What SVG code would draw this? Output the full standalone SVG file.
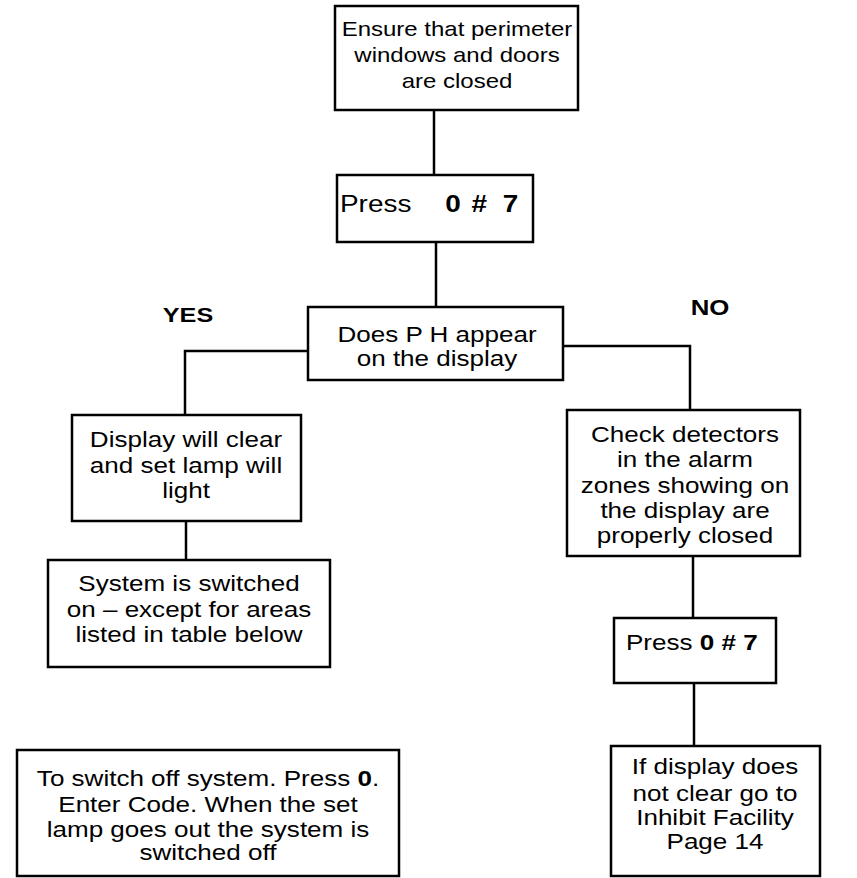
<svg xmlns="http://www.w3.org/2000/svg" width="857" height="878" viewBox="0 0 857 878">
<style>
.box{fill:#fff;stroke:#000;stroke-width:2.5}
.ln{fill:none;stroke:#000;stroke-width:2.5}
text{font-family:"Liberation Sans",Arial,Helvetica,sans-serif;font-size:21.7px;fill:#000;text-anchor:middle}
.b{font-weight:bold}
.l{text-anchor:start}
</style>
<rect width="857" height="878" fill="#fff"/>
<g id="connectors">
<path class="ln" d="M434,110 V175"/>
<path class="ln" d="M436,242 V307"/>
<path class="ln" d="M308,351 H185 V415"/>
<path class="ln" d="M563,346 H690 V410"/>
<path class="ln" d="M186,521 V560"/>
<path class="ln" d="M693,556 V618"/>
<path class="ln" d="M694,683 V746"/>
</g>
<g id="n1">
<rect class="box" x="335" y="6" width="243" height="104"/>
<g transform="translate(457 0) scale(1.2 1)" style="font-size:20px">
<text x="0" y="36" style="font-size:20px">Ensure that  perimeter</text>
<text x="0" y="62" style="font-size:20px">windows and doors</text>
<text x="0" y="88" style="font-size:20px">are closed</text>
</g>
</g>
<g id="n2">
<rect class="box" x="337" y="175" width="196" height="67"/>
<g transform="scale(1.2 1)">
<text class="l" x="283.3" y="212" style="font-size:23.3px">Press</text>
<text class="l b" x="371" y="212" style="font-size:23.3px">0</text>
<text class="l b" x="393" y="212" style="font-size:23.3px">#</text>
<text class="l b" x="419" y="212" style="font-size:23.3px">7</text>
</g>
</g>
<g id="n3">
<rect class="box" x="308" y="307" width="255" height="73"/>
<g transform="translate(437 0) scale(1.2 1)">
<text x="0" y="342">Does P H appear</text>
<text x="0" y="366">on the display</text>
</g>
</g>
<g id="yes" transform="translate(188 0) scale(1.2 1)"><text class="b" x="0" y="322" style="font-size:21px">YES</text></g>
<g id="no" transform="translate(710 0) scale(1.2 1)"><text class="b" x="0" y="315" style="font-size:21.5px">NO</text></g>
<g id="n4">
<rect class="box" x="72" y="415" width="229" height="106"/>
<g transform="translate(186 0) scale(1.2 1)">
<text x="0" y="447">Display will clear</text>
<text x="0" y="473">and set  lamp will</text>
<text x="0" y="498">light</text>
</g>
</g>
<g id="n5">
<rect class="box" x="48" y="560" width="282" height="107"/>
<g transform="translate(189 0) scale(1.2 1)">
<text x="0" y="591">System  is switched</text>
<text x="0" y="617">on – except for areas</text>
<text x="0" y="642">listed in table below</text>
</g>
</g>
<g id="n6">
<rect class="box" x="567" y="410" width="233" height="146"/>
<g transform="translate(685 0) scale(1.2 1)">
<text x="0" y="442">Check detectors</text>
<text x="0" y="467">in the alarm</text>
<text x="0" y="493">zones showing on</text>
<text x="0" y="518">the display are</text>
<text x="0" y="543">properly closed</text>
</g>
</g>
<g id="n7">
<rect class="box" x="614" y="618" width="162" height="65"/>
<g transform="translate(626 0) scale(1.2 1)">
<text class="l" x="0" y="650">Press <tspan class="b">0 # 7</tspan></text>
</g>
</g>
<g id="n8">
<rect class="box" x="611" y="746" width="209" height="130"/>
<g transform="translate(715 0) scale(1.2 1)">
<text x="0" y="774">If display does</text>
<text x="0" y="801">not clear go to</text>
<text x="0" y="825">Inhibit Facility</text>
<text x="0" y="849">Page 14</text>
</g>
</g>
<g id="n9">
<rect class="box" x="17" y="750" width="382" height="126"/>
<g transform="translate(208 0) scale(1.2 1)">
<text x="0" y="786">To switch off system. Press <tspan class="b">0</tspan>.</text>
<text x="0" y="812">Enter Code. When the set</text>
<text x="0" y="837">lamp goes out the system is</text>
<text x="0" y="860">switched off</text>
</g>
</g>
</svg>
